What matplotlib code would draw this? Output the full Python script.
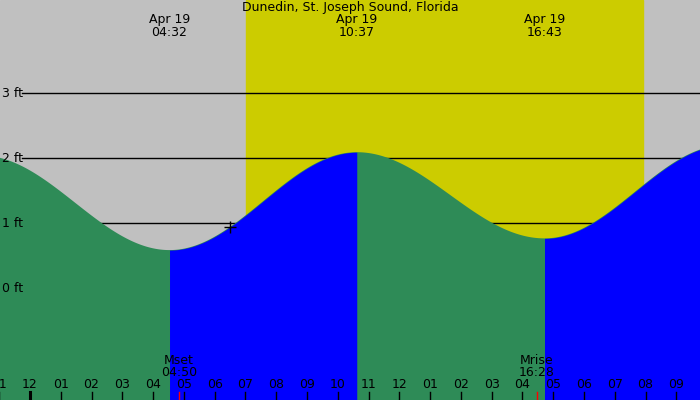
import numpy as np
import matplotlib.pyplot as plt

plt.rcParams['font.family'] = ['Liberation Sans Narrow', 'DejaVu Sans Condensed', 'DejaVu Sans']

# tide extremes, hours after midnight Apr 19 (negative = Apr 18)
ext_hours = [-1.6, 4 + 32/60, 10 + 37/60, 16 + 43/60, 22.6]
ext_heights = [2.04, 0.585, 2.09, 0.765, 2.2]
shown = [1, 2, 3]
shown_times = ['04:32', '10:37', '16:43']

sunrise = 7.02
sunset = 19.93
moon_events = [('Mset', 4 + 50/60, '04:50'), ('Mrise', 16 + 28/60, '16:28')]
now_hour = 6 + 29/60

ft_levels = [0, 1, 2, 3]
hour_ticks = list(range(-1, 22))

x0, x1 = -0.975, 21.77
y0, y1 = -1.72, 4.43

fig = plt.figure(figsize=(7, 4), dpi=100)
ax = fig.add_axes([0, 0, 1, 1])
ax.set_xlim(x0, x1)
ax.set_ylim(y0, y1)
ax.axis('off')
ax.add_patch(plt.Rectangle((0, 0), 1, 1, transform=ax.transAxes, color='#c0c0c0', zorder=0))
ax.axvspan(sunrise, sunset, color='#cccc00', zorder=0.5)

for lv in ft_levels:
    ax.axhline(lv, xmin=0.031, xmax=1, color='black', lw=1, zorder=1)
    ax.text(0.003, lv, '%d ft' % lv, transform=ax.get_yaxis_transform(),
            ha='left', va='center', fontsize=9, zorder=5)


def tide(t):
    for i in range(len(ext_hours) - 1):
        ta, tb = ext_hours[i], ext_hours[i + 1]
        if ta <= t <= tb:
            ha, hb = ext_heights[i], ext_heights[i + 1]
            f = (t - ta) / (tb - ta)
            return hb + (ha - hb) * (1 + np.cos(np.pi * f)) / 2
    return np.nan


# whole curve in green first, rising parts in blue on top
t_all = np.linspace(ext_hours[0], ext_hours[-1], 2000)
h_all = np.array([tide(t) for t in t_all])
ax.fill_between(t_all, y0, h_all, color='#2e8b57', lw=0, zorder=2)
for i in range(len(ext_hours) - 1):
    if ext_heights[i + 1] > ext_heights[i]:
        tt = np.linspace(ext_hours[i], ext_hours[i + 1], 400)
        hh = np.array([tide(t) for t in tt])
        ax.fill_between(tt, y0, hh, color='#0000ff', lw=0, zorder=2.1)

ax.plot([now_hour], [tide(now_hour)], marker='+', color='black', ms=8, mew=1, zorder=4)

ax.text(0.5, 0.98, 'Dunedin, St. Joseph Sound, Florida', transform=ax.transAxes,
        ha='center', va='center', fontsize=9)
for i, tl in zip(shown, shown_times):
    ax.text(ext_hours[i], 1 - 19/400, 'Apr 19', transform=ax.get_xaxis_transform(),
            ha='center', va='center', fontsize=9)
    ax.text(ext_hours[i], 1 - 32/400, tl, transform=ax.get_xaxis_transform(),
            ha='center', va='center', fontsize=9)

for name, t, lbl in moon_events:
    ax.text(t, 1 - 361/400, name, transform=ax.get_xaxis_transform(),
            ha='center', va='center', fontsize=9, zorder=5)
    ax.text(t, 1 - 373/400, lbl, transform=ax.get_xaxis_transform(),
            ha='center', va='center', fontsize=9, zorder=5)
    ax.plot([t, t], [0, 8/400], transform=ax.get_xaxis_transform(),
            color='red', lw=1, zorder=4)

for h in hour_ticks:
    lab = '%02d' % ((h - 1) % 12 + 1)
    ax.text(h, 1 - 385/400, lab, transform=ax.get_xaxis_transform(),
            ha='center', va='center', fontsize=9, zorder=5)
    ax.plot([h, h], [0, 8/400], transform=ax.get_xaxis_transform(),
            color='black', lw=2.2 if h == 0 else 1, zorder=4)

fig.savefig('out.png', dpi=100)
